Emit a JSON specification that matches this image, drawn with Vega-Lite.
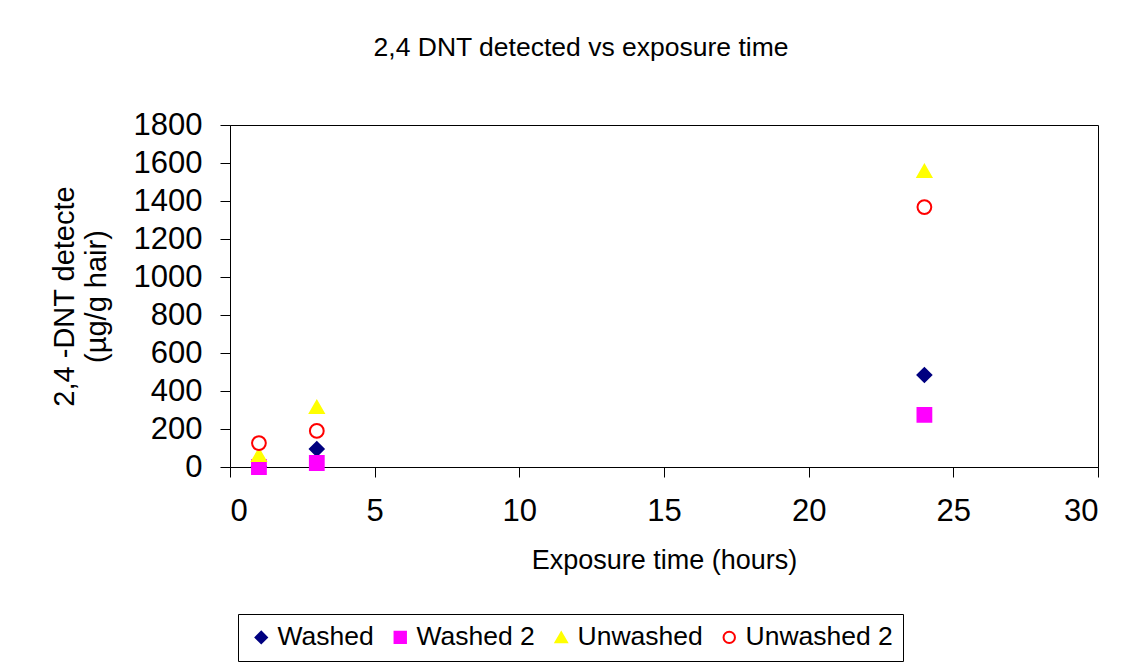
{
  "$schema": "https://vega.github.io/schema/vega-lite/v6.json",
  "autosize": "none",
  "width": 868,
  "height": 342,
  "padding": {"left": 230, "top": 125, "right": 42, "bottom": 198},
  "background": "white",
  "title": {
    "text": "2,4 DNT detected vs exposure time",
    "font": "Liberation Sans",
    "fontSize": 26.5,
    "fontWeight": "normal",
    "color": "black",
    "anchor": "middle",
    "offset": 48,
    "dx": -83
  },
  "config": {
    "view": {"stroke": "black", "strokeWidth": 1},
    "font": "Liberation Sans"
  },
  "data": {
    "values": [
      {"time": 1, "value": 3, "series": "Washed"},
      {"time": 3, "value": 95, "series": "Washed"},
      {"time": 24, "value": 484, "series": "Washed"},
      {"time": 1, "value": 0, "series": "Washed 2"},
      {"time": 3, "value": 21, "series": "Washed 2"},
      {"time": 24, "value": 274, "series": "Washed 2"},
      {"time": 1, "value": 63, "series": "Unwashed"},
      {"time": 3, "value": 316, "series": "Unwashed"},
      {"time": 24, "value": 1558, "series": "Unwashed"},
      {"time": 1, "value": 126, "series": "Unwashed 2"},
      {"time": 3, "value": 190, "series": "Unwashed 2"},
      {"time": 24, "value": 1368, "series": "Unwashed 2"}
    ]
  },
  "mark": {"type": "point", "size": 190, "strokeWidth": 2, "opacity": 1, "fillOpacity": 1},
  "encoding": {
    "x": {
      "field": "time",
      "type": "quantitative",
      "scale": {"domain": [0, 30], "nice": false, "zero": true},
      "axis": {
        "title": "Exposure time (hours)",
        "titleFont": "Liberation Sans",
        "titleFontSize": 27,
        "titleFontWeight": "normal",
        "titleColor": "black",
        "titlePadding": 21,
        "values": [0, 5, 10, 15, 20, 25, 30],
        "format": "d",
        "labelFont": "Liberation Sans",
        "labelFontSize": 31,
        "labelColor": "black",
        "labelPadding": 19,
        "tickColor": "black",
        "tickSize": 10,
        "domainColor": "black",
        "grid": false
      }
    },
    "y": {
      "field": "value",
      "type": "quantitative",
      "scale": {"domain": [0, 1800], "nice": false},
      "axis": {
        "title": ["2,4 -DNT detecte", "(µg/g hair)"],
        "titleFont": "Liberation Sans",
        "titleFontSize": 29,
        "titleFontWeight": "normal",
        "titleColor": "black",
        "titlePadding": 22,
        "titleLineHeight": 32,
        "values": [0, 200, 400, 600, 800, 1000, 1200, 1400, 1600, 1800],
        "format": "d",
        "labelFont": "Liberation Sans",
        "labelFontSize": 31,
        "labelColor": "black",
        "labelPadding": 18,
        "tickColor": "black",
        "tickSize": 10,
        "domainColor": "black",
        "grid": false
      }
    },
    "shape": {
      "field": "series",
      "type": "nominal",
      "scale": {
        "domain": ["Washed", "Washed 2", "Unwashed", "Unwashed 2"],
        "range": ["diamond", "square", "triangle-up", "circle"]
      },
      "legend": {
        "orient": "none",
        "legendX": 8,
        "legendY": 489,
        "direction": "horizontal",
        "columns": 4,
        "title": null,
        "strokeColor": "black",
        "padding": 10,
        "labelFont": "Liberation Sans",
        "labelFontSize": 26.5,
        "labelColor": "black",
        "labelOffset": 3,
        "symbolSize": 130,
        "symbolStrokeWidth": 2,
        "columnPadding": 13,
        "fillColor": "white"
      }
    },
    "fill": {
      "field": "series",
      "type": "nominal",
      "scale": {
        "domain": ["Washed", "Washed 2", "Unwashed", "Unwashed 2"],
        "range": ["#000080", "#FF00FF", "#FFFF00", "#FFFFFF"]
      }
    },
    "stroke": {
      "field": "series",
      "type": "nominal",
      "scale": {
        "domain": ["Washed", "Washed 2", "Unwashed", "Unwashed 2"],
        "range": ["#000080", "#FF00FF", "#FFFF00", "#FF0000"]
      }
    }
  }
}
